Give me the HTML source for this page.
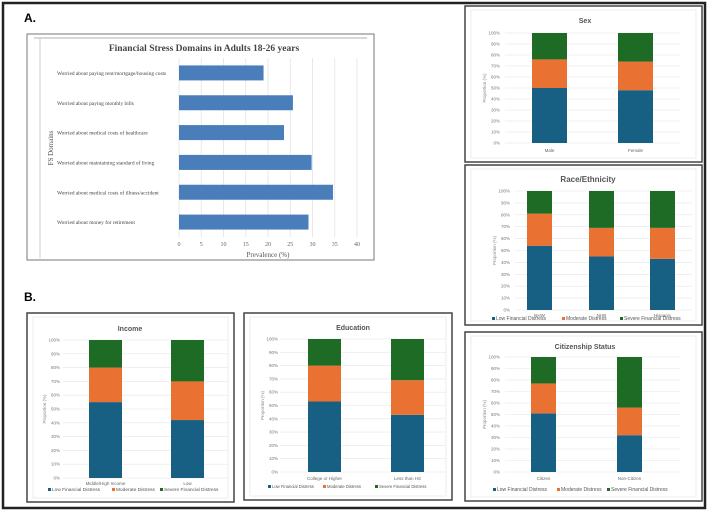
<!DOCTYPE html>
<html><head><meta charset="utf-8"><style>
html,body{margin:0;padding:0;background:#fff}
svg{display:block;font-family:"Liberation Sans",sans-serif}
</style></head><body>
<svg id="fig" width="708" height="511" viewBox="0 0 708 511" xmlns="http://www.w3.org/2000/svg">
<rect x="3" y="3" width="702" height="505" fill="#fff" stroke="#222" stroke-width="2.5"/>
<text x="24" y="22" font-size="12" font-weight="bold">A.</text>
<text x="24" y="301" font-size="12" font-weight="bold">B.</text>
<g id="root"></g>
</svg>
<script>
const NS="http://www.w3.org/2000/svg";
const root=document.getElementById('root');
function mk(tag,attrs,parent,text){const e=document.createElementNS(NS,tag);for(const k in attrs)e.setAttribute(k,attrs[k]);if(text!==undefined)e.textContent=text;(parent||root).appendChild(e);return e;}

// Panel A data
const domainLabels=["Worried about paying rent/mortgage/housing costs","Worried about paying monthly bills","Worried about medical costs of healthcare","Worried about maintaining standard of living","Worried about medical costs of illness/accident","Worried about money for retirement"];
const domainValues=[19,25.6,23.6,29.8,34.6,29.1];
const prevTicks=[0,5,10,15,20,25,30,35,40];

// Stacked data (low, moderate, severe)
const seriesNames=["Low Financial Distress","Moderate Distress","Severe Financial Distress"];
const pctTicks=[0,10,20,30,40,50,60,70,80,90,100];
const sexCats=["Male","Female"];
const sexLow=[50,48];const sexMod=[26,26];const sexSev=[24,26];
const raceCats=["NHW","NHB","Hispanic"];
const raceLow=[54,45,43];const raceMod=[27,24,26];const raceSev=[19,31,31];
const citCats=["Citizen","Non-Citizen"];
const citLow=[51,32];const citMod=[26,24];const citSev=[23,44];
const incCats=["Middle/High Income","Low"];
const incLow=[55,42];const incMod=[25,28];const incSev=[20,30];
const eduCats=["College or Higher","Less than HS"];
const eduLow=[53,43];const eduMod=[27,26];const eduSev=[20,31];

const COLORS=["#185f84","#e97132","#1d6b25"];

// ---- Panel A ----
(function(){
  const g=mk('g',{});
  mk('rect',{x:27,y:34,width:347,height:226,fill:'#fff',stroke:'#777','stroke-width':1},g);
  mk('line',{x1:34,y1:38,x2:367,y2:38,stroke:'#999','stroke-width':0.7},g);
  mk('line',{x1:40,y1:38,x2:40,y2:258,stroke:'#bbb','stroke-width':0.7},g);
  mk('text',{x:204,y:51,'font-size':9.5,'font-weight':'bold','text-anchor':'middle','font-family':'Liberation Serif, serif',fill:'#444',},g,"Financial Stress Domains in Adults 18-26 years");
  const x0=179,x1=357,xs=v=>x0+(v/40)*(x1-x0);
  const yTop=58,yBot=237,step=(yBot-yTop)/domainLabels.length;
  prevTicks.forEach(t=>{
    mk('line',{x1:xs(t),y1:yTop,x2:xs(t),y2:yBot,stroke:'#e3e3e3','stroke-width':0.8},g);
    const tl=mk('text',{x:xs(t),y:246,'font-size':6,'text-anchor':'middle','font-family':'Liberation Serif, serif',fill:'#666'},g,String(t));
    
    
  });
  domainLabels.forEach((lab,i)=>{
    const cy=yTop+step*(i+0.5);
    const b=mk('rect',{x:x0,y:cy-7.5,width:xs(domainValues[i])-x0,height:15,fill:'#4a7ebb'},g);
    
    
    const t=mk('text',{x:57,y:cy+2,'font-size':5.4,'font-family':'Liberation Serif, serif',fill:'#444'},g,lab);
    
    
  });
  mk('text',{x:268,y:257,'font-size':7,'text-anchor':'middle','font-family':'Liberation Serif, serif',fill:'#555',},g,"Prevalence (%)");
  mk('text',{x:0,y:0,'font-size':7,'text-anchor':'middle','font-family':'Liberation Serif, serif',fill:'#555',transform:'translate(53,148) rotate(-90)',},g,"FS Domains");
})();

// ---- stacked charts ----
function stacked(o){
  const g=mk('g',{});
  
  
  mk('rect',{x:o.bx,y:o.by,width:o.bw,height:o.bh,fill:'#fff',stroke:'#444','stroke-width':1.5},g);
  mk('rect',{x:o.bx+6,y:o.by+4,width:o.bw-12,height:o.bh-8,fill:'none',stroke:'#e6e6e6','stroke-width':0.7},g);
  const tt=mk('text',{x:o.tx,y:o.ty,'font-size':o.tfs,'font-weight':'bold','text-anchor':'middle',fill:'#555'},g,o.title);
  
  
  const ys=v=>o.y0-(v/100)*(o.y0-o.y100);
  pctTicks.forEach(t=>{
    mk('line',{x1:o.gx1,y1:ys(t),x2:o.gx2,y2:ys(t),stroke:'#e6e6e6','stroke-width':0.6},g);
    const tl=mk('text',{x:o.tickX,y:ys(t)+1.5,'font-size':4.5,'text-anchor':'end',fill:'#777'},g,t+'%');
    
    
  });
  const yt=mk('text',{x:0,y:0,'font-size':4.5,'text-anchor':'middle',fill:'#888',transform:`translate(${o.tickX-14},${(o.y0+o.y100)/2}) rotate(-90)`},g,"Proportion (%)");
  
  
  const data=[o.low,o.mod,o.sev];
  o.cats.forEach((c,i)=>{
    let acc=0;
    data.forEach((arr,s)=>{
      const v=arr[i];
      const r=mk('rect',{x:o.bars[i],y:ys(acc+v),width:o.barW,height:ys(acc)-ys(acc+v),fill:COLORS[s]},g);
      
      
      acc+=v;
    });
    const cl=mk('text',{x:o.bars[i]+o.barW/2,y:o.catY,'font-size':4.5,'text-anchor':'middle',fill:'#666'},g,c);
    
    
  });
  if(o.legY){
    let lx=o.legX;
    seriesNames.forEach((n,s)=>{
      mk('rect',{x:lx,y:o.legY-3,width:3,height:3,fill:COLORS[s]},g);
      const lt=mk('text',{x:lx+4,y:o.legY,'font-size':o.legFs,fill:'#555'},g,n);
      
      
      lx+=o.legGap[s];
    });
  }
}
stacked({name:'sex-chart',title:'Sex',bx:465,by:6,bw:237,bh:156,tx:585,ty:23,tfs:7,y100:33,y0:143,gx1:505,gx2:680,tickX:500,bars:[532,618],barW:35,cats:sexCats,low:sexLow,mod:sexMod,sev:sexSev,catY:152});
stacked({name:'race-ethnicity-chart',title:'Race/Ethnicity',bx:465,by:165,bw:237,bh:160,tx:588,ty:182,tfs:8,y100:191,y0:310,gx1:515,gx2:692,tickX:510,bars:[527,589,650],barW:25,cats:raceCats,low:raceLow,mod:raceMod,sev:raceSev,catY:317,legY:320,legX:492,legGap:[70,58,70],legFs:5});
stacked({name:'citizenship-chart',title:'Citizenship Status',bx:465,by:332,bw:237,bh:169,tx:585,ty:349,tfs:7,y100:357,y0:472,gx1:505,gx2:680,tickX:500,bars:[531,617],barW:25,cats:citCats,low:citLow,mod:citMod,sev:citSev,catY:480,legY:491,legX:493,legGap:[64,50,70],legFs:5});
stacked({name:'income-chart',title:'Income',bx:27,by:313,bw:207,bh:189,tx:130,ty:331,tfs:7,y100:340,y0:478,gx1:63,gx2:228,tickX:60,bars:[89,171],barW:33,cats:incCats,low:incLow,mod:incMod,sev:incSev,catY:485,legY:491,legX:48,legGap:[64,48,64],legFs:4.8});
stacked({name:'education-chart',title:'Education',bx:244,by:313,bw:208,bh:187,tx:353,ty:330,tfs:7,y100:339,y0:472,gx1:280,gx2:446,tickX:278,bars:[308,391],barW:33,cats:eduCats,low:eduLow,mod:eduMod,sev:eduSev,catY:480,legY:488,legX:268,legGap:[55,52,60],legFs:4.2});
</script>
</body></html>
